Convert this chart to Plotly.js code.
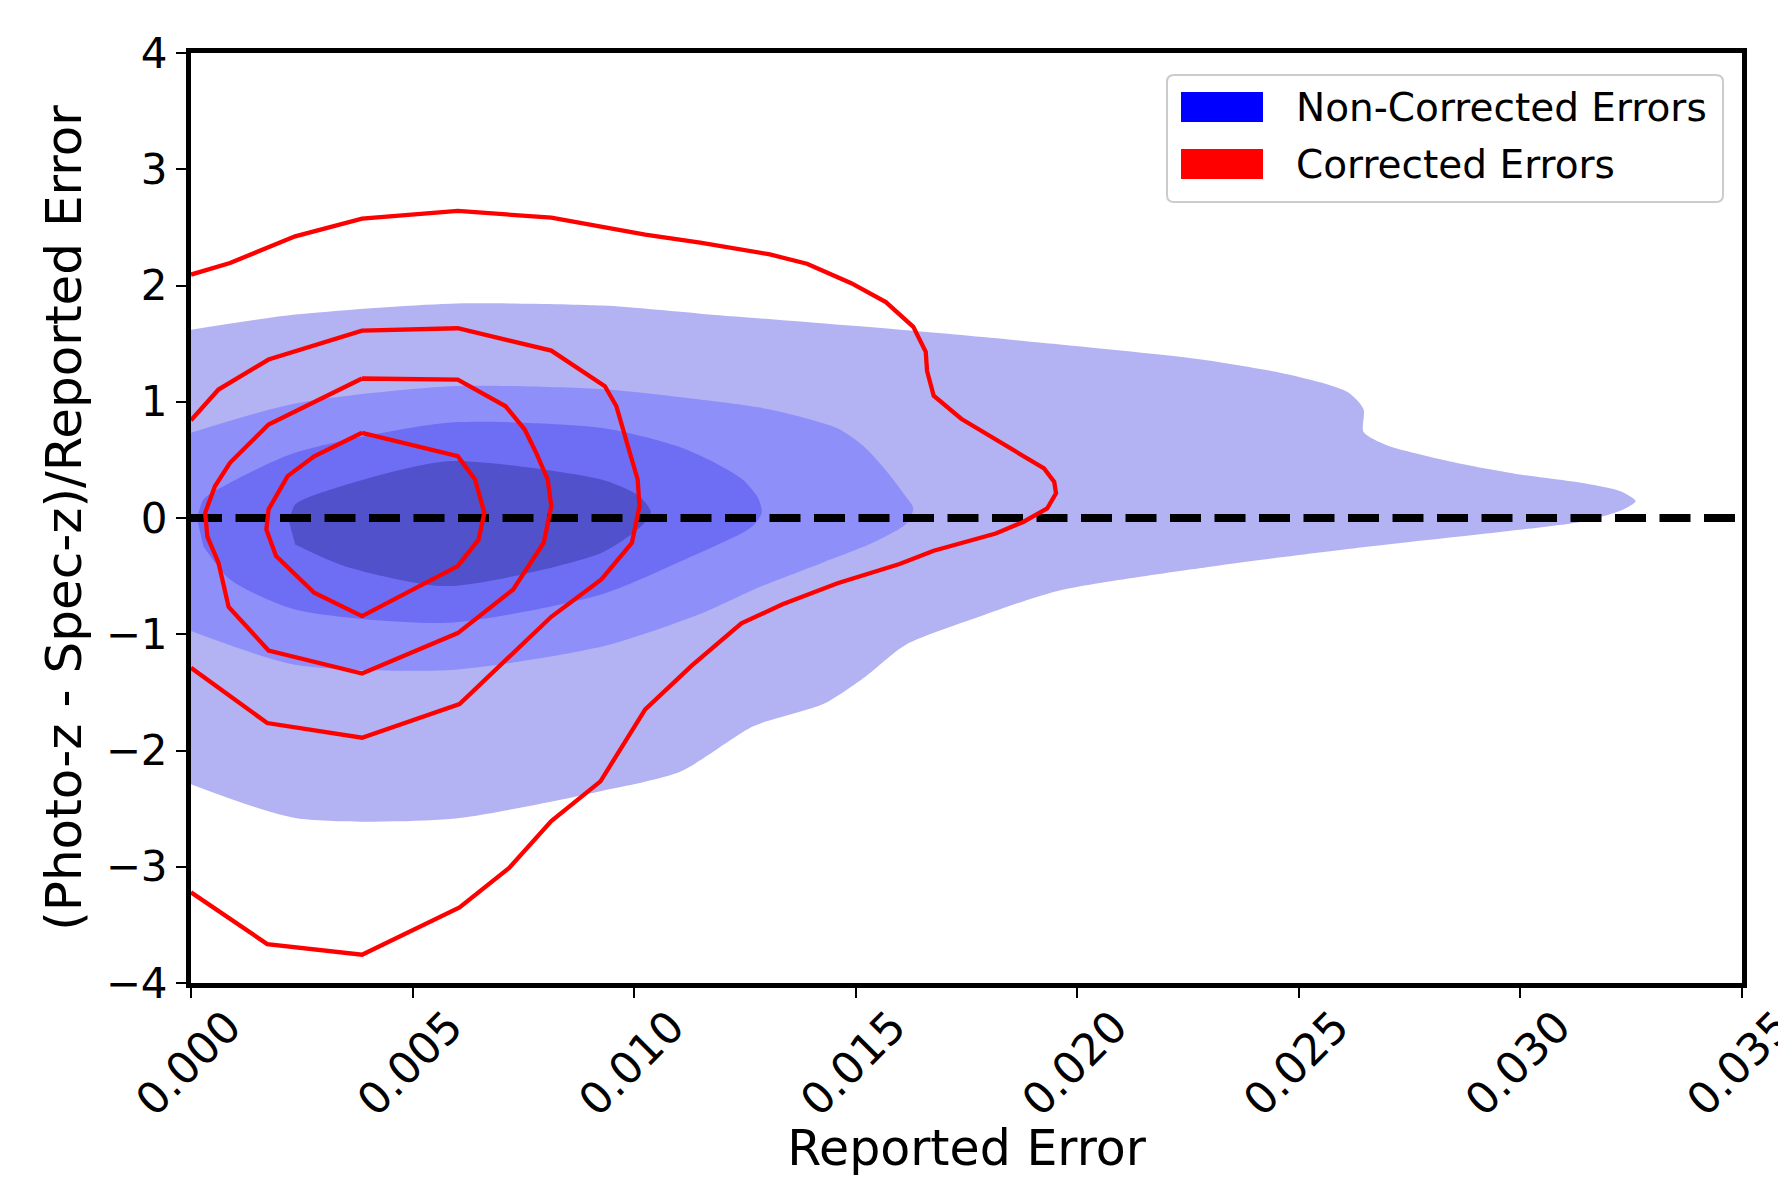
<!DOCTYPE html>
<html><head><meta charset="utf-8">
<script src="https://cdn.plot.ly/plotly-3.0.1.min.js"></script>
<style>html,body{margin:0;padding:0;background:#fff}#chart{width:1778px;height:1177px}</style>
</head><body><div id="chart"></div>
<script>
// ---- Data (x = reported error, y = normalised residual) ----
// Non-corrected errors: filled KDE levels (outer -> inner)
const kde1X = [0, 0.00235, 0.00584, 0.0093, 0.01149, 0.0163, 0.01956, 0.0228, 0.0248, 0.0261, 0.02646, 0.02646, 0.0270, 0.02855, 0.02994, 0.0315, 0.03227, 0.0326, 0.03227, 0.03134, 0.02963, 0.02654, 0.02312, 0.01956, 0.01785, 0.01614, 0.01521, 0.01428, 0.0127, 0.01105, 0.00924, 0.00584, 0.00235, 0];
const kde1Y = [1.62, 1.75, 1.844, 1.827, 1.758, 1.61, 1.495, 1.364, 1.232, 1.084, 0.936, 0.739, 0.623, 0.475, 0.377, 0.295, 0.229, 0.146, 0.064, -0.034, -0.116, -0.248, -0.413, -0.627, -0.841, -1.088, -1.367, -1.598, -1.79, -2.18, -2.35, -2.59, -2.58, -2.29];
const kde2X = [0, 0.00235, 0.00584, 0.0093, 0.01149, 0.01304, 0.01459, 0.01521, 0.01568, 0.01614, 0.0163, 0.01614, 0.01537, 0.01428, 0.01273, 0.01149, 0.0093, 0.00584, 0.00235, 0];
const kde2Y = [0.733, 0.985, 1.133, 1.108, 1.019, 0.936, 0.771, 0.607, 0.41, 0.18, 0.082, -0.05, -0.216, -0.38, -0.61, -0.825, -1.103, -1.307, -1.263, -0.973];
const kde3X = [0.00014, 0.00028, 0.00088, 0.00235, 0.0058, 0.00926, 0.01098, 0.0118, 0.01245, 0.0128, 0.01288, 0.0127, 0.01245, 0.01098, 0.00926, 0.0058, 0.00235, 0.00088, 0.00028];
const kde3Y = [-0.013, 0.16, 0.303, 0.561, 0.819, 0.776, 0.617, 0.48, 0.331, 0.17, 0.045, -0.06, -0.127, -0.385, -0.658, -0.901, -0.787, -0.529, -0.242];
const kde4X = [0.00222, 0.00235, 0.00339, 0.0058, 0.00926, 0.01012, 0.01038, 0.01012, 0.00926, 0.0058, 0.00347, 0.00235];
const kde4Y = [-0.041, 0.116, 0.273, 0.488, 0.331, 0.187, 0.045, -0.084, -0.3, -0.586, -0.414, -0.228];

// Corrected errors: contour lines (outer -> inner)
const red1X = [0, 0.00088, 0.00235, 0.00386, 0.00602, 0.00813, 0.01025, 0.01149, 0.01304, 0.0139, 0.0149, 0.01568, 0.0163, 0.01658, 0.01661, 0.01676, 0.01738, 0.01816, 0.01886, 0.01925, 0.01948, 0.01952, 0.01932, 0.01878, 0.01816, 0.01676, 0.01599, 0.01459, 0.01335, 0.01242, 0.0113, 0.01025, 0.00924, 0.00813, 0.00718, 0.00606, 0.00386, 0.00172, 0];
const red1Y = [2.094, 2.194, 2.423, 2.575, 2.641, 2.584, 2.438, 2.368, 2.269, 2.187, 2.02, 1.857, 1.644, 1.43, 1.265, 1.052, 0.854, 0.673, 0.508, 0.426, 0.311, 0.212, 0.082, -0.034, -0.133, -0.281, -0.396, -0.561, -0.742, -0.906, -1.27, -1.647, -2.265, -2.607, -3.01, -3.35, -3.757, -3.665, -3.22];
const red2X = [0, 0.00062, 0.00175, 0.00386, 0.00602, 0.00813, 0.00934, 0.0096, 0.00986, 0.01008, 0.01012, 0.00995, 0.00926, 0.00813, 0.00606, 0.00386, 0.00172, 0];
const red2Y = [0.84, 1.105, 1.363, 1.612, 1.632, 1.44, 1.133, 0.961, 0.617, 0.331, 0.101, -0.213, -0.529, -0.85, -1.6, -1.89, -1.764, -1.289];
const red3X = [0.00386, 0.00602, 0.0071, 0.00753, 0.00779, 0.00805, 0.00813, 0.00796, 0.00727, 0.00602, 0.00386, 0.00175, 0.00085, 0.00062, 0.00037, 0.00032, 0.00054, 0.00088, 0.00175, 0.00386];
const red3Y = [1.2, 1.19, 0.961, 0.761, 0.561, 0.331, 0.101, -0.213, -0.615, -0.99, -1.338, -1.14, -0.765, -0.385, -0.16, 0.045, 0.273, 0.475, 0.804, 1.2];
const red4X = [0.00386, 0.00602, 0.00641, 0.00662, 0.00649, 0.00602, 0.00386, 0.00278, 0.00192, 0.0017, 0.00175, 0.00218, 0.00278, 0.00386];
const red4Y = [0.733, 0.531, 0.331, 0.045, -0.185, -0.414, -0.844, -0.643, -0.328, -0.099, 0.073, 0.36, 0.531, 0.733];

// Reference line at zero residual
const zeroLineX = [0, 0.035];
const zeroLineY = [0, 0];

// Axis ticks
const xTickVals = [0, 0.005, 0.010, 0.015, 0.020, 0.025, 0.030, 0.035];
const xTickText = ['0.000', '0.005', '0.010', '0.015', '0.020', '0.025', '0.030', '0.035'];
const yTickVals = [-4, -3, -2, -1, 0, 1, 2, 3, 4];

// Legend
const legendLabels = ['Non-Corrected Errors', 'Corrected Errors'];
const legendColors = ['#0000ff', '#ff0000'];

// ---- Styles ----
const fillColors = ['#b3b3f3', '#8f8ff9', '#6e6ef5', '#5151cc'];
const FONT = 'DejaVu Sans, Liberation Sans, sans-serif';

const kdeXs = [kde1X, kde2X, kde3X, kde4X];
const kdeYs = [kde1Y, kde2Y, kde3Y, kde4Y];
const redXs = [red1X, red2X, red3X, red4X];
const redYs = [red1Y, red2Y, red3Y, red4Y];

const traces = [];
kdeXs.forEach((xs, i) => {
  traces.push({
    type: 'scatter', mode: 'lines', x: xs, y: kdeYs[i],
    fill: 'toself', fillcolor: fillColors[i],
    line: {width: 0, shape: 'spline', smoothing: 0.7, color: fillColors[i]},
    hoverinfo: 'skip', showlegend: false
  });
});
traces.push({
  type: 'scatter', mode: 'lines', x: zeroLineX, y: zeroLineY,
  line: {color: '#000000', width: 8, dash: '31px,13.5px'},
  hoverinfo: 'skip', showlegend: false
});
redXs.forEach((xs, i) => {
  traces.push({
    type: 'scatter', mode: 'lines', x: xs, y: redYs[i],
    line: {color: '#ff0000', width: 4.3},
    hoverinfo: 'skip', showlegend: false
  });
});

// ---- Layout geometry (pixels) ----
const FW = 1778, FH = 1177;
const ML = 191, MR = 36, MT = 53, MB = 194;
const PW = FW - ML - MR, PH = FH - MT - MB;
const px2x = p => (p - ML) / PW;
const px2y = p => 1 - (p - MT) / PH;

// legend frame
const lx0 = px2x(1167), lx1 = px2x(1723), ly1 = px2y(75), ly0 = px2y(202);
const rx = 7 / PW, ry = 7 / PH;
const framePath = `M${lx0+rx},${ly1} L${lx1-rx},${ly1} Q${lx1},${ly1} ${lx1},${ly1-ry} L${lx1},${ly0+ry} Q${lx1},${ly0} ${lx1-rx},${ly0} L${lx0+rx},${ly0} Q${lx0},${ly0} ${lx0},${ly0+ry} L${lx0},${ly1-ry} Q${lx0},${ly1} ${lx0+rx},${ly1} Z`;

const shapes = [{
  type: 'path', xref: 'paper', yref: 'paper', path: framePath,
  fillcolor: 'rgba(255,255,255,0.8)', line: {color: '#cccccc', width: 2}, layer: 'above'
}];
const annotations = [];
const rowCenters = [107, 164];
legendLabels.forEach((lab, i) => {
  const cy = rowCenters[i];
  shapes.push({
    type: 'rect', xref: 'paper', yref: 'paper',
    x0: px2x(1181), x1: px2x(1263), y0: px2y(cy + 15), y1: px2y(cy - 15),
    fillcolor: legendColors[i], line: {width: 0}, layer: 'above'
  });
  annotations.push({
    xref: 'paper', yref: 'paper', x: px2x(1294), y: px2y(cy),
    xanchor: 'left', yanchor: 'middle', showarrow: false,
    text: lab, font: {family: FONT, size: 39, color: '#000000'}
  });
});

const layout = {
  width: FW, height: FH,
  margin: {l: ML, r: MR, t: MT, b: MB, pad: 0},
  paper_bgcolor: '#ffffff', plot_bgcolor: '#ffffff',
  showlegend: false,
  font: {family: FONT, color: '#000000'},
  xaxis: {
    range: [0, 0.035], tickvals: xTickVals, ticktext: xTickText,
    tickangle: -45, ticklabelshift: 37, ticklabelstandoff: -15,
    ticklabeloverflow: 'allow',
    tickfont: {family: FONT, size: 44, color: '#000000'},
    ticks: 'outside', ticklen: 10, tickwidth: 2, tickcolor: '#000000',
    showline: true, linewidth: 5, linecolor: '#000000', mirror: true,
    showgrid: false, zeroline: false, automargin: false,
    title: {text: 'Reported Error', font: {family: FONT, size: 49, color: '#000000'}, standoff: 53}
  },
  yaxis: {
    range: [-4, 4], tickvals: yTickVals,
    tickfont: {family: FONT, size: 42, color: '#000000'},
    ticks: 'outside', ticklen: 10, tickwidth: 2, tickcolor: '#000000',
    showline: true, linewidth: 5, linecolor: '#000000', mirror: true,
    showgrid: false, zeroline: false, automargin: false,
    title: {text: '(Photo-z - Spec-z)/Reported Error', font: {family: FONT, size: 50, color: '#000000'}, standoff: 10}
  },
  shapes: shapes,
  annotations: annotations
};

Plotly.newPlot('chart', traces, layout, {staticPlot: true, displayModeBar: false});
</script></body></html>
